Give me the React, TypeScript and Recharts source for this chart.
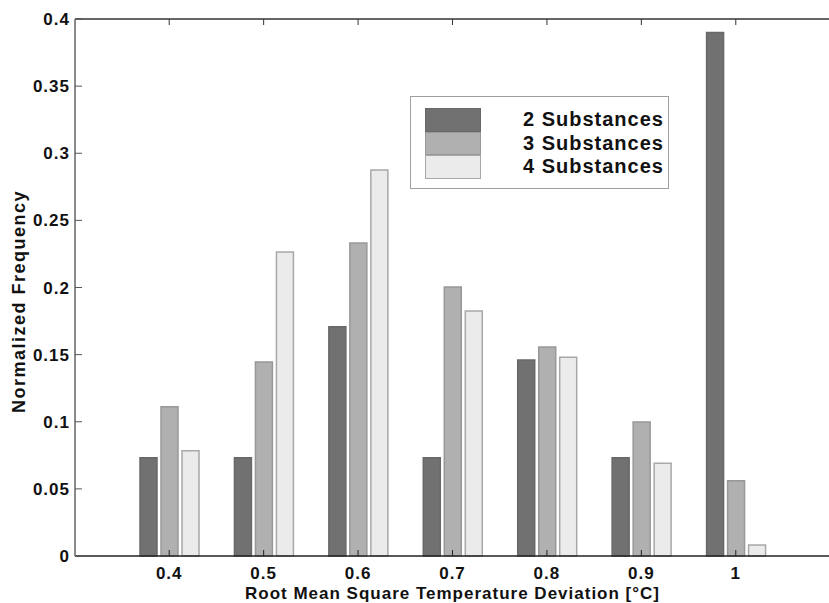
import { BarChart, Bar, XAxis, YAxis, Legend } from 'recharts'

const categories = ['0.4', '0.5', '0.6', '0.7', '0.8', '0.9', '1']
const twoSubstances = [0.0732, 0.0732, 0.1708, 0.0732, 0.146, 0.0732, 0.39]
const threeSubstances = [0.1112, 0.1445, 0.2332, 0.2004, 0.1557, 0.0998, 0.0561]
const fourSubstances = [0.0784, 0.2264, 0.2875, 0.1825, 0.148, 0.069, 0.0082]
const yTicks = [0, 0.05, 0.1, 0.15, 0.2, 0.25, 0.3, 0.35, 0.4]

const series = [
  { key: 's2', name: '2 Substances', fill: '#717171', stroke: '#686868' },
  { key: 's3', name: '3 Substances', fill: '#b0b0b0', stroke: '#989898' },
  { key: 's4', name: '4 Substances', fill: '#ebebeb', stroke: '#a8a8a8' },
]

const data = categories.map((x, i) => ({
  x,
  s2: twoSubstances[i],
  s3: threeSubstances[i],
  s4: fourSubstances[i],
}))

const FONT = '"Liberation Sans", Arial, Helvetica, sans-serif'
const tickStyle = { fontSize: 17, fontWeight: 700, fill: '#111', fontFamily: FONT, letterSpacing: 1 }

function LegendBox() {
  return (
    <div
      style={{
        width: 259,
        height: 93,
        boxSizing: 'border-box',
        border: '1.5px solid #a0a0a0',
        background: '#fff',
        position: 'relative',
        fontFamily: FONT,
      }}
    >
      <div style={{ position: 'absolute', left: 14, top: 11 }}>
        {series.map((s) => (
          <div
            key={s.key}
            style={{ width: 56, height: 23.5, boxSizing: 'border-box', background: s.fill, border: `1px solid ${s.stroke}` }}
          />
        ))}
      </div>
      <div style={{ position: 'absolute', left: 112, top: 11 }}>
        {series.map((s) => (
          <div
            key={s.key}
            style={{ height: 23.5, lineHeight: '23.5px', fontSize: 20, fontWeight: 700, color: '#111', letterSpacing: 1, whiteSpace: 'nowrap' }}
          >
            {s.name}
          </div>
        ))}
      </div>
    </div>
  )
}

function YLabel(props: any) {
  const vb = props.viewBox || { x: 0, y: 0, width: 0, height: 0 }
  const cx = vb.x + 19
  const cy = vb.y + vb.height / 2 + 14
  return (
    <text
      x={cx}
      y={cy}
      transform={`rotate(-90 ${cx} ${cy})`}
      textAnchor="middle"
      dominantBaseline="central"
      style={{ fontSize: 18, fontWeight: 700, fill: '#111', fontFamily: FONT, letterSpacing: 1.5 }}
    >
      Normalized Frequency
    </text>
  )
}

export default function App() {
  return (
    <div style={{ position: 'absolute', left: 0, top: 0, width: 829, height: 603, overflow: 'hidden', background: '#fff' }}>
      <BarChart
        width={832}
        height={603}
        data={data}
        margin={{ top: 18, right: 0, bottom: 0, left: 0 }}
        barSize={17}
        barGap={4}
      >
        <XAxis
          xAxisId="b"
          dataKey="x"
          orientation="bottom"
          height={47}
          padding={{ left: 47, right: 47 }}
          axisLine={{ stroke: '#222', strokeWidth: 1.5 }}
          tickLine={{ stroke: '#222' }}
          tickSize={-6}
          tickMargin={17}
          tick={tickStyle}
          label={{
            value: 'Root Mean Square Temperature Deviation [°C]',
            position: 'insideBottom',
            offset: 4,
            style: { fontSize: 17, fontWeight: 700, fill: '#111', fontFamily: FONT, letterSpacing: 1 },
          }}
        />
        <XAxis
          xAxisId="t"
          dataKey="x"
          orientation="top"
          height={1}
          padding={{ left: 47, right: 47 }}
          axisLine={{ stroke: '#333', strokeWidth: 1.5 }}
          tickLine={{ stroke: '#333' }}
          tickSize={-6}
          tickFormatter={() => ''}
        />
        <YAxis
          yAxisId="l"
          width={75}
          domain={[0, 0.4]}
          ticks={yTicks}
          axisLine={{ stroke: '#8a8a8a', strokeWidth: 2 }}
          tickLine={{ stroke: '#555' }}
          tickSize={-7}
          tickMargin={12}
          tick={tickStyle}
          label={<YLabel />}
        />
        <YAxis
          yAxisId="r"
          orientation="right"
          width={2}
          domain={[0, 0.4]}
          ticks={yTicks}
          axisLine={{ stroke: '#555' }}
          tickLine={{ stroke: '#555' }}
          tickSize={-7}
          tickFormatter={() => ''}
        />
        <Legend
          layout="vertical"
          align="center"
          verticalAlign="middle"
          content={() => <LegendBox />}
          wrapperStyle={{ position: 'absolute', left: 410, top: 96, width: 259, height: 93 }}
        />
        {series.map((s) => (
          <Bar
            key={s.key}
            xAxisId="b"
            yAxisId="l"
            dataKey={s.key}
            name={s.name}
            fill={s.fill}
            stroke={s.stroke}
            strokeWidth={1.5}
            isAnimationActive={false}
          />
        ))}
      </BarChart>
    </div>
  )
}
